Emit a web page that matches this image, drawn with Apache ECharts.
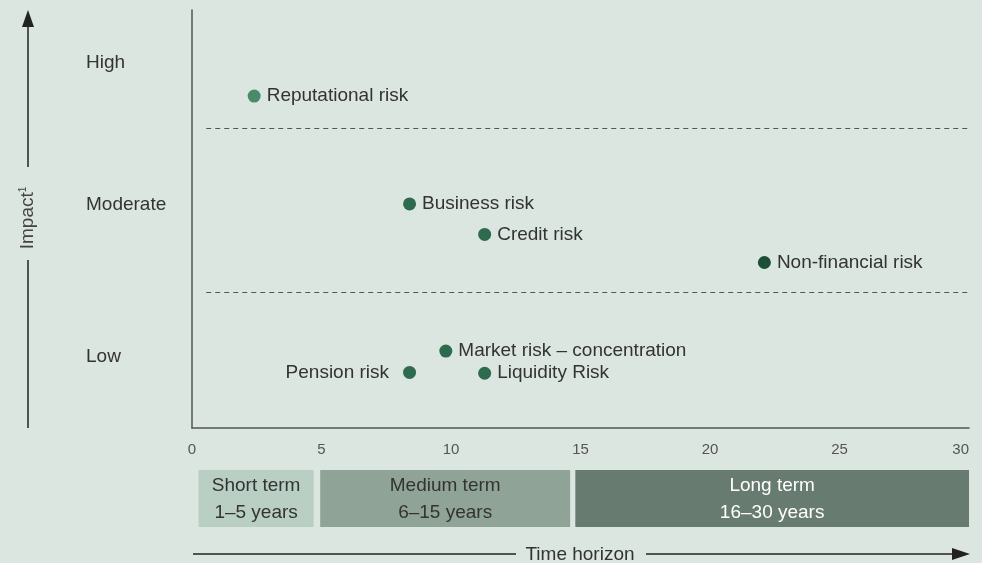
<!DOCTYPE html>
<html>
<head>
<meta charset="utf-8">
<script src="https://cdn.jsdelivr.net/npm/echarts@6/dist/echarts.min.js"></script>
<style>
  html, body { margin: 0; padding: 0; background: #dce6e0; }
  #chart { width: 982px; height: 563px; }
</style>
</head>
<body>
<div id="chart"></div>
<script>
// risks: time horizon (years) and impact score
const riskNames = ['Reputational risk', 'Business risk', 'Credit risk', 'Non-financial risk',
  'Market risk – concentration', 'Pension risk', 'Liquidity Risk']
const riskHorizon = [2.4, 8.4, 11.3, 22.1, 9.8, 8.4, 11.3]
const riskImpact = [79.4, 53.6, 46.3, 39.6, 18.4, 13.3, 13.1]
const riskShade = ['light', 'mid', 'mid', 'dark', 'mid', 'mid', 'mid']

// impact levels and the band borders between them
const impactLevels = ['Low', 'Moderate', 'High']
const impactLevelPos = [17.1, 53.3, 87.3]
const bandBorders = [32.5, 71.8]

// time horizon boxes
const termNames = ['Short term', 'Medium term', 'Long term']
const termYears = ['1–5 years', '6–15 years', '16–30 years']
const termFrom = [0.25, 4.95, 14.8]
const termTo = [4.7, 14.6, 30.0]

const xTicks = [0, 5, 10, 15, 20, 25, 30]

const shadeColor = { light: '#4a8a6a', mid: '#2d6a4e', dark: '#1c4e38' }
const termColor = ['#b9cfc4', '#8fa396', '#687b70']
const termText = ['#333', '#333', '#fff']
const FONT = 'Liberation Sans'
const TXT = '#333'

const chart = echarts.init(document.getElementById('chart'))

const points = riskNames.map((name, i) => ({
  name: name,
  value: [riskHorizon[i], riskImpact[i]],
  itemStyle: { color: shadeColor[riskShade[i]], opacity: 1 },
  label: name === 'Pension risk' ? { position: 'left', distance: 14 } : undefined
}))

const option = {
  backgroundColor: '#dce6e0',
  textStyle: { fontFamily: FONT },
  grid: [
    { left: 192, right: 13, top: 10, bottom: 135 },
    { left: 192, right: 13, top: 470, height: 57 }
  ],
  xAxis: [
    {
      type: 'value', gridIndex: 0, min: 0, max: 30, interval: 5,
      axisLine: { show: true, lineStyle: { color: '#555', width: 1.5 } },
      axisTick: { show: false },
      splitLine: { show: false },
      axisLabel: { margin: 14, color: '#555', fontSize: 15, fontFamily: FONT,
        customValues: xTicks, alignMaxLabel: 'right' }
    },
    { type: 'value', gridIndex: 1, min: 0, max: 30, show: false }
  ],
  yAxis: [
    {
      type: 'value', gridIndex: 0, min: 0, max: 100,
      axisLine: { show: true, lineStyle: { color: '#555', width: 1.5 } },
      axisTick: { show: false },
      splitLine: { show: false },
      axisLabel: {
        customValues: impactLevelPos,
        align: 'left', margin: 106, color: TXT, fontSize: 19, fontFamily: FONT,
        formatter: v => impactLevels[impactLevelPos.indexOf(v)]
      }
    },
    { type: 'value', gridIndex: 1, min: 0, max: 1, show: false }
  ],
  graphic: [
    // impact arrow
    { type: 'line', shape: { x1: 28, y1: 428, x2: 28, y2: 260 }, style: { stroke: '#222', lineWidth: 1.5 } },
    { type: 'line', shape: { x1: 28, y1: 167, x2: 28, y2: 22 }, style: { stroke: '#222', lineWidth: 1.5 } },
    { type: 'polygon', shape: { points: [[28, 10], [22, 27], [34, 27]] }, style: { fill: '#222' } },
    {
      type: 'text', x: 28, y: 218, rotation: Math.PI / 2,
      style: {
        text: '{a|Impact}{s|1}', align: 'center', verticalAlign: 'middle',
        rich: {
          a: { fontSize: 19, fill: '#444', fontFamily: FONT },
          s: { fontSize: 10, fill: '#444', fontFamily: FONT, verticalAlign: 'top', padding: [0, 0, 8, 0] }
        }
      }
    },
    // time horizon arrow
    { type: 'line', shape: { x1: 193, y1: 554, x2: 516, y2: 554 }, style: { stroke: '#222', lineWidth: 1.5 } },
    { type: 'line', shape: { x1: 646, y1: 554, x2: 955, y2: 554 }, style: { stroke: '#222', lineWidth: 1.5 } },
    { type: 'polygon', shape: { points: [[970, 554], [952, 548], [952, 560]] }, style: { fill: '#222' } },
    {
      type: 'text', x: 580, y: 555,
      style: { text: 'Time horizon', align: 'center', verticalAlign: 'middle', fontSize: 19, fill: TXT, fontFamily: FONT }
    }
  ],
  series: [
    {
      type: 'scatter',
      xAxisIndex: 0, yAxisIndex: 0,
      symbolSize: 13,
      data: points,
      label: {
        show: true, position: 'right', distance: 6,
        formatter: p => p.name,
        color: TXT, fontSize: 19, fontFamily: FONT
      },
      markLine: {
        silent: true,
        symbol: 'none',
        label: { show: false },
        lineStyle: { color: '#555', type: [5, 4], width: 1, opacity: 1 },
        data: bandBorders.map(b => [{ coord: [0.55, b] }, { coord: [30, b] }])
      }
    },
    {
      type: 'custom',
      xAxisIndex: 1, yAxisIndex: 1,
      data: termNames.map((n, i) => [termFrom[i], termTo[i], i]),
      renderItem: (params, api) => {
        const i = api.value(2)
        const p0 = api.coord([api.value(0), 1])
        const p1 = api.coord([api.value(1), 0])
        return {
          type: 'group',
          children: [
            {
              type: 'rect',
              shape: { x: p0[0], y: p0[1], width: p1[0] - p0[0], height: p1[1] - p0[1] },
              style: { fill: termColor[i] }
            },
            {
              type: 'text',
              x: (p0[0] + p1[0]) / 2, y: (p0[1] + p1[1]) / 2 + 1,
              style: {
                text: termNames[i] + '\n' + termYears[i],
                align: 'center', verticalAlign: 'middle',
                fontSize: 19, lineHeight: 27, fill: termText[i], fontFamily: FONT
              }
            }
          ]
        }
      }
    }
  ]
}

chart.setOption(option)
</script>
</body>
</html>
